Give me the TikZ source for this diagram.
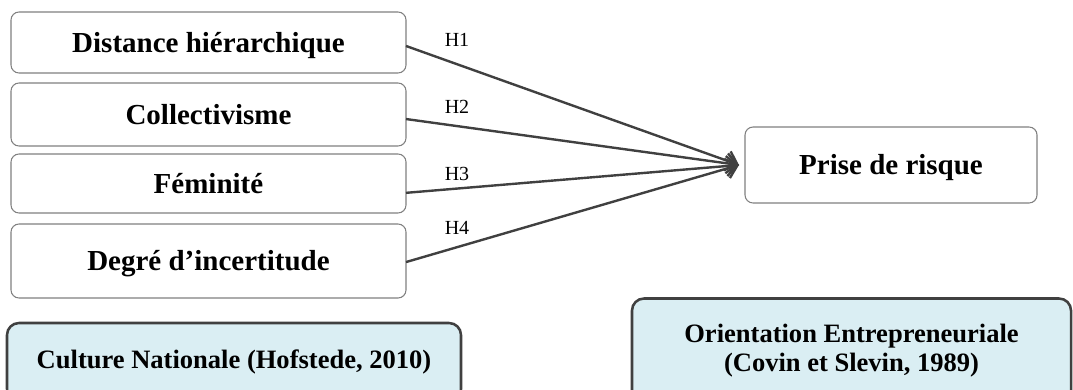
\documentclass[tikz,border=0pt]{standalone}
\usepackage{fontspec}
\setmainfont{Liberation Serif}
\usepackage{xcolor}
\usetikzlibrary{arrows.meta}

\definecolor{boxgray}{RGB}{128,128,128}
\definecolor{linegray}{RGB}{64,64,64}
\definecolor{paleblue}{RGB}{218,238,243}

\begin{document}
\begin{tikzpicture}[x=0.75pt,y=0.75pt,yscale=-1,xscale=1,
  varbox/.style={draw=boxgray,line width=0.8pt,rounded corners=6pt,inner sep=0pt,outer sep=0pt,
    minimum width=296.25pt,text height=14.4pt,text depth=0pt,font=\fontsize{21.75}{26}\selectfont\bfseries},
  riskbox/.style={varbox,minimum width=219pt,minimum height=57pt},
  refbox/.style={draw=linegray,fill=paleblue,line width=1.9pt,rounded corners=9pt,inner sep=0pt,outer sep=0pt,
    align=center,font=\fontsize{19.9}{21.75}\selectfont\bfseries},
  hyp/.style={font=\fontsize{15}{18}\selectfont},
  link/.style={draw=linegray,line width=1.8pt,-{Straight Barb[length=8pt,width=15pt]}}]
\useasboundingbox (0,0) rectangle (1073,389);
\clip (0,0) rectangle (1073,389);

%Shape: Rounded Rect (dimensions of national culture)
\draw (208.5,42.5) node [varbox,minimum height=45.75pt] (dist) {Distance hiérarchique};
\draw (208.5,114.5) node [varbox,minimum height=47.25pt] (coll) {Collectivisme};
\draw (208.5,183.5) node [varbox,minimum height=44.25pt] (fem) {Féminité};
\draw (208.5,261) node [varbox,minimum height=55.5pt] (incert) {Degré d’incertitude};

%Shape: Rounded Rect (dependent variable)
\draw (891,165) node [riskbox] (risk) {Prise de risque};

%Shape: Rounded Rect (sources)
\draw (234,362) node [refbox,minimum width=340.5pt,minimum height=58.5pt] (culture) {Culture Nationale (Hofstede, 2010)};
\draw (851.5,350.5) node [refbox,minimum width=329.25pt,minimum height=78pt] (orient) {Orientation Entrepreneuriale\\(Covin et Slevin, 1989)};

%Straight Lines [hypotheses]
\coordinate (tip) at ([xshift=-4.5pt]risk.west);
\draw [link] ([yshift=2.6pt]dist.east) -- (tip);
\draw [link] ([yshift=3.4pt]coll.east) -- (tip);
\draw [link] ([yshift=7pt]fem.east) -- (tip);
\draw [link] ([yshift=0.8pt]incert.east) -- (tip);

% Text Node
\draw (457,40) node [hyp] (h1) {H1};
% Text Node
\draw (457,107) node [hyp] (h2) {H2};
% Text Node
\draw (457,174) node [hyp] (h3) {H3};
% Text Node
\draw (457,228) node [hyp] (h4) {H4};

\end{tikzpicture}
\end{document}
